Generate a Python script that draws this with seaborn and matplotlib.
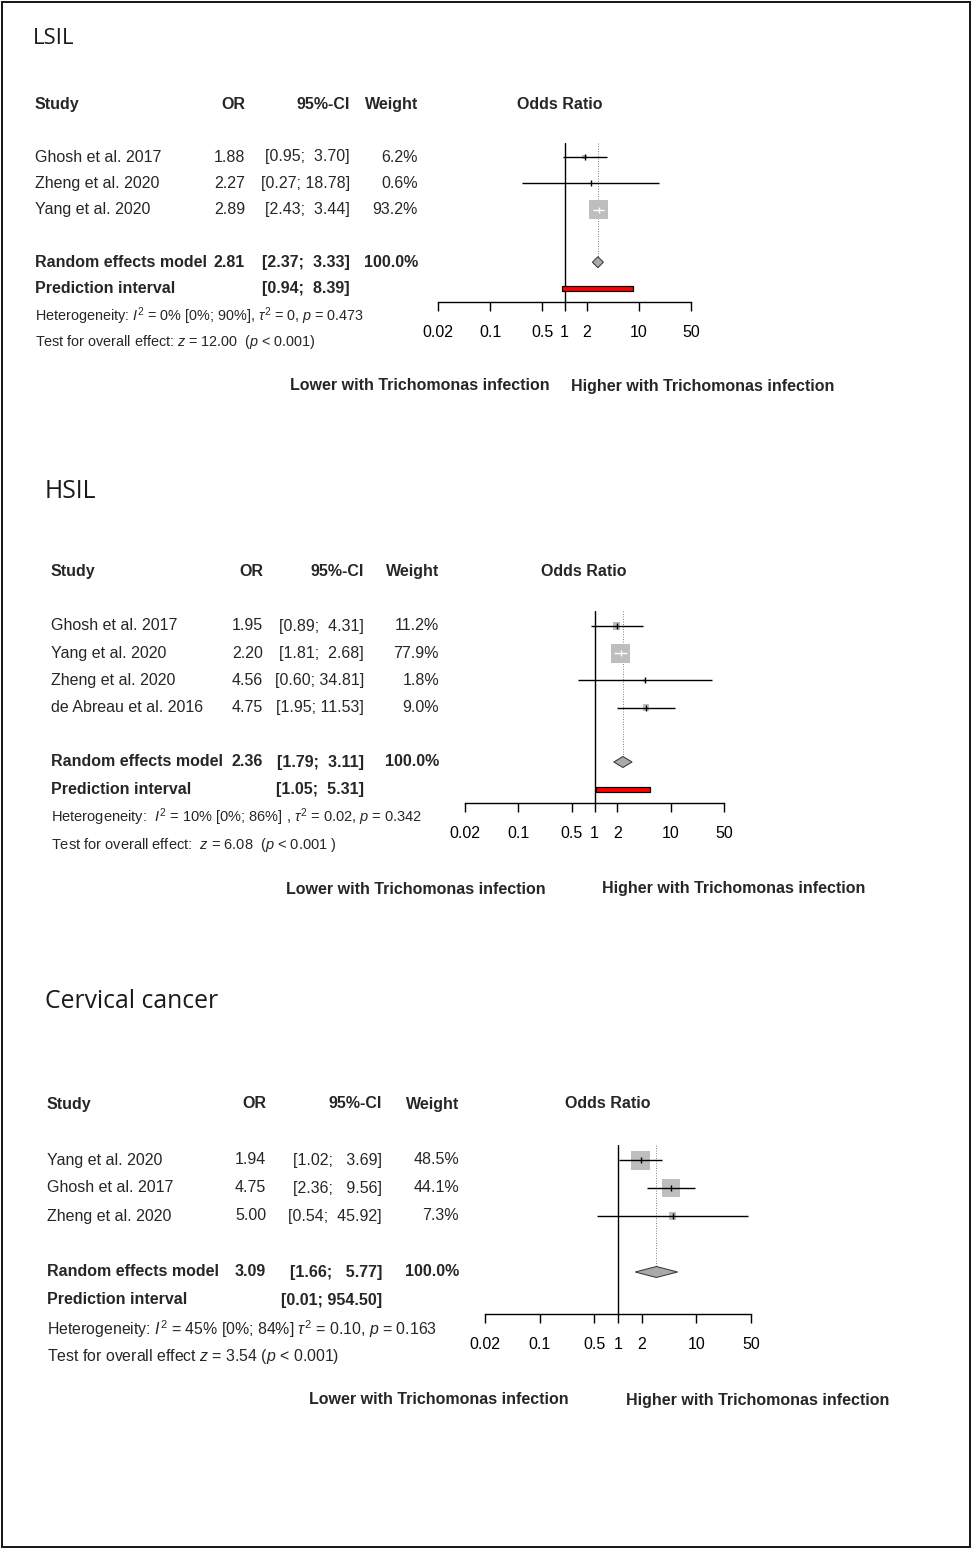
import numpy as np
import matplotlib
matplotlib.use("Agg")
import matplotlib.pyplot as plt
import seaborn as sns
import pandas as pd
from matplotlib.patches import Rectangle
from matplotlib.ticker import NullLocator

# ------------------------------------------------------------------ data
lsil_study = ["Ghosh et al. 2017", "Zheng et al. 2020", "Yang et al. 2020"]
lsil_or = [1.88, 2.27, 2.89]
lsil_lo = [0.95, 0.27, 2.43]
lsil_hi = [3.70, 18.78, 3.44]
lsil_w = [6.2, 0.6, 93.2]
lsil_sum = [2.81, 2.37, 3.33]
lsil_pi = [0.94, 8.39]
lsil_het = r"Heterogeneity: $I^2$ = 0% [0%; 90%], $\tau^2$ = 0, $p$ = 0.473"
lsil_test = r"Test for overall effect: $z$ = 12.00  ($p$ < 0.001)"

hsil_study = ["Ghosh et al. 2017", "Yang et al. 2020", "Zheng et al. 2020",
              "de Abreau et al. 2016"]
hsil_or = [1.95, 2.20, 4.56, 4.75]
hsil_lo = [0.89, 1.81, 0.60, 1.95]
hsil_hi = [4.31, 2.68, 34.81, 11.53]
hsil_w = [11.2, 77.9, 1.8, 9.0]
hsil_sum = [2.36, 1.79, 3.11]
hsil_pi = [1.05, 5.31]
hsil_het = r"Heterogeneity:  $I^2$ = 10% [0%; 86%] , $\tau^2$ = 0.02, $p$ = 0.342"
hsil_test = r"Test for overall effect:  $z$ = 6.08  ($p$ < 0.001 )"

cc_study = ["Yang et al. 2020", "Ghosh et al. 2017", "Zheng et al. 2020"]
cc_or = [1.94, 4.75, 5.00]
cc_lo = [1.02, 2.36, 0.54]
cc_hi = [3.69, 9.56, 45.92]
cc_w = [48.5, 44.1, 7.3]
cc_sum = [3.09, 1.66, 5.77]
cc_pi = [0.01, 954.50]
cc_het = r"Heterogeneity: $I^2$ = 45% [0%; 84%] $\tau^2$ = 0.10, $p$ = 0.163"
cc_test = r"Test for overall effect $z$ = 3.54 ($p$ < 0.001)"

titles = ["LSIL", "HSIL", "Cervical cancer"]
tick_vals = [0.02, 0.1, 0.5, 1, 2, 10, 50]
tick_labels = ["0.02", "0.1", "0.5", "1", "2", "10", "50"]
label_left = "Lower with Trichomonas infection"
label_right = "Higher with Trichomonas infection"

panels_data = [
    dict(study=lsil_study, OR=lsil_or, lo=lsil_lo, hi=lsil_hi, w=lsil_w,
         summ=lsil_sum, pi=lsil_pi, het=lsil_het, test=lsil_test),
    dict(study=hsil_study, OR=hsil_or, lo=hsil_lo, hi=hsil_hi, w=hsil_w,
         summ=hsil_sum, pi=hsil_pi, het=hsil_het, test=hsil_test),
    dict(study=cc_study, OR=cc_or, lo=cc_lo, hi=cc_hi, w=cc_w,
         summ=cc_sum, pi=cc_pi, het=cc_het, test=cc_test),
]

# ------------------------------------------------------------------ layout (pixels)
layouts = [
    dict(title=(33, 38, 16.0), y0=157, dy=26.3, xs=35, xor=245, xci=350, xw=418,
         axl=438, axr=691, xodds=560, xlow=420, xhigh=703, ylab=386, hetfs=10.4),
    dict(title=(45, 492, 17.8), y0=626, dy=27.2, xs=51, xor=263, xci=364, xw=439,
         axl=465, axr=724, xodds=584, xlow=416, xhigh=734, ylab=889, hetfs=10.5),
    dict(title=(45, 1002, 17.8), y0=1160, dy=28.0, xs=47, xor=266, xci=382, xw=459,
         axl=485, axr=751, xodds=608, xlow=439, xhigh=758, ylab=1400, hetfs=11.4),
]

W, H = 973, 1550
PT = 72 / 100  # points per pixel

sns.set_style("white")
plt.rcParams["font.family"] = ["Liberation Sans", "DejaVu Sans"]
plt.rcParams["mathtext.fontset"] = "custom"
plt.rcParams["mathtext.rm"] = "Liberation Sans"
plt.rcParams["mathtext.it"] = "Liberation Sans:italic"
plt.rcParams["mathtext.bf"] = "Liberation Sans:bold"

FS = 16 * PT
SQ_GRAY = "#BEBEBE"
DIA_GRAY = "#A9A9A9"

fig = plt.figure(figsize=(W / 100, H / 100), dpi=100)
bg = fig.add_axes([0, 0, 1, 1], zorder=0)
bg.set_xlim(0, W)
bg.set_ylim(H, 0)
bg.axis("off")
bg.add_patch(Rectangle((2, 2), W - 5, H - 5, fill=False, edgecolor="#1a1a1a",
                       linewidth=2 * PT))

for title, d, L in zip(titles, panels_data, layouts):
    n = len(d["study"])
    y0, dy = L["y0"], L["dy"]
    ry = lambda r: y0 + r * dy
    r_sum, r_pi = n + 1, n + 2

    # title
    tx, tyy, tfs = L["title"]
    bg.text(tx, tyy, title, fontsize=tfs, family="Open Sans", color="#1a1a1a",
            va="center", ha="left")

    # header
    hy = ry(-2)
    bg.text(L["xs"], hy, "Study", fontsize=FS, fontweight="bold", va="center")
    bg.text(L["xor"], hy, "OR", fontsize=FS, fontweight="bold", va="center", ha="right")
    bg.text(L["xci"], hy, "95%-CI", fontsize=FS, fontweight="bold", va="center", ha="right")
    bg.text(L["xw"], hy, "Weight", fontsize=FS, fontweight="bold", va="center", ha="right")
    bg.text(L["xodds"], hy, "Odds Ratio", fontsize=FS, fontweight="bold",
            va="center", ha="center")

    wid = max(len(f"{v:.2f}") for v in d["hi"] + [d["summ"][2], d["pi"][1]])
    for i in range(n):
        yy = ry(i)
        bg.text(L["xs"], yy, d["study"][i], fontsize=FS, va="center")
        bg.text(L["xor"], yy, f"{d['OR'][i]:.2f}", fontsize=FS, va="center", ha="right")
        bg.text(L["xci"], yy, f"[{d['lo'][i]:.2f}; {d['hi'][i]:{wid}.2f}]",
                fontsize=FS, va="center", ha="right")
        bg.text(L["xw"], yy, f"{d['w'][i]:.1f}%", fontsize=FS, va="center", ha="right")

    est, slo, shi = d["summ"]
    yy = ry(r_sum)
    bg.text(L["xs"], yy, "Random effects model", fontsize=FS, fontweight="bold", va="center")
    bg.text(L["xor"], yy, f"{est:.2f}", fontsize=FS, fontweight="bold", va="center", ha="right")
    bg.text(L["xci"], yy, f"[{slo:.2f}; {shi:{wid}.2f}]", fontsize=FS,
            fontweight="bold", va="center", ha="right")
    bg.text(L["xw"], yy, "100.0%", fontsize=FS, fontweight="bold", va="center", ha="right")
    yy = ry(r_pi)
    bg.text(L["xs"], yy, "Prediction interval", fontsize=FS, fontweight="bold", va="center")
    bg.text(L["xci"], yy, f"[{d['pi'][0]:.2f}; {d['pi'][1]:{wid}.2f}]", fontsize=FS,
            fontweight="bold", va="center", ha="right")
    bg.text(L["xs"], ry(r_pi + 1) + 1, d["het"], fontsize=L["hetfs"], va="center")
    bg.text(L["xs"], ry(r_pi + 2) + 1, d["test"], fontsize=L["hetfs"], va="center")

    # bottom labels
    bg.text(L["xlow"], L["ylab"], label_left, fontsize=FS, fontweight="bold",
            va="center", ha="center")
    bg.text(L["xhigh"], L["ylab"], label_right, fontsize=FS, fontweight="bold",
            va="center", ha="center")

    # ---------------- forest axes
    ytop_px = ry(-0.55)
    ybot_px = ry(n + 2.5)
    ax = fig.add_axes([L["axl"] / W, 1 - ybot_px / H, (L["axr"] - L["axl"]) / W,
                       (ybot_px - ytop_px) / H], zorder=2)
    ax.patch.set_alpha(0)
    ax.set_xscale("log")
    ax.set_xlim(0.02, 50)
    ax.set_ylim(n + 2.5, -0.55)
    for s in ["left", "top", "right"]:
        ax.spines[s].set_visible(False)
    ax.spines["bottom"].set_linewidth(1.4 * PT)
    ax.spines["bottom"].set_color("black")
    ax.set_xticks(tick_vals)
    ax.set_xticklabels(tick_labels)
    ax.xaxis.set_minor_locator(NullLocator())
    ax.set_yticks([])
    ax.tick_params(axis="x", direction="out", length=9 * PT, width=1.4 * PT,
                   labelsize=FS, pad=10, colors="black", bottom=True)
    ax.grid(False)

    # reference line and summary dotted line
    ax.axvline(1, color="black", linewidth=1.4 * PT, zorder=1)
    ax.vlines(est, -0.55, r_sum - 0.2, colors="#888888", linestyles=(0, (1, 1.5)),
              linewidth=1 * PT, zorder=1)

    # squares via seaborn
    df = pd.DataFrame({"OR": d["OR"], "row": np.arange(n), "w": d["w"]})
    wmax = max(d["w"])
    smax = (19 * PT) ** 2
    sns.scatterplot(data=df, x="OR", y="row", size="w", sizes=(0, smax),
                    size_norm=(0, wmax), marker="s", color=SQ_GRAY, linewidth=0,
                    legend=False, ax=ax, zorder=2)
    ax.set_xlabel("")
    ax.set_ylabel("")
    ax.set_xlim(0.02, 50)
    ax.set_ylim(n + 2.5, -0.55)

    # CI lines (white when entirely inside the square)
    for i in range(n):
        side = 19 * np.sqrt(d["w"][i] / wmax)
        pe = ax.transData.transform((d["OR"][i], 0))[0]
        pl = ax.transData.transform((d["lo"][i], 0))[0]
        ph = ax.transData.transform((d["hi"][i], 0))[0]
        inside = (pe - pl) <= side / 2 and (ph - pe) <= side / 2
        col = "white" if inside else "black"
        ax.hlines(i, d["lo"][i], d["hi"][i], colors=col, linewidth=1.4 * PT, zorder=3)
        ax.plot([d["OR"][i]], [i], marker="|", markersize=6 * PT, color=col,
                markeredgewidth=1.4 * PT, zorder=4)

    # diamond
    h = 5.5 / dy
    ax.fill([slo, est, shi, est], [r_sum, r_sum - h, r_sum, r_sum + h],
            facecolor=DIA_GRAY, edgecolor="#333333", linewidth=1 * PT, zorder=3)

    # prediction interval (only drawn when within axis range)
    plo, phi = d["pi"]
    if plo >= 0.02 and phi <= 50:
        ph_ = 5.0 / dy
        ax.add_patch(Rectangle((plo, r_pi - ph_ / 2), phi - plo, ph_, facecolor="#FF0000",
                               edgecolor="black", linewidth=1.2 * PT, zorder=3))

fig.savefig("out.png", dpi=100)
